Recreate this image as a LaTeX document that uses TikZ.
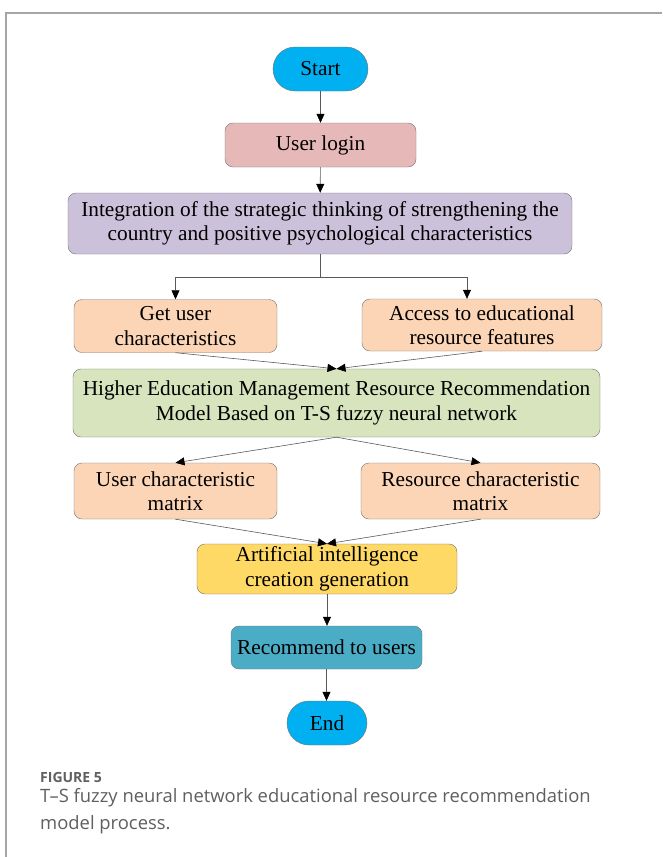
\documentclass[tikz,border=0pt]{standalone}
\usepackage{fontspec}
\setmainfont{Liberation Serif}
\newfontfamily\capfont{Open Sans}
\usetikzlibrary{arrows.meta,shapes.misc}
\definecolor{termblue}{HTML}{00B0F0}
\definecolor{loginpink}{HTML}{E6B9B8}
\definecolor{lilac}{HTML}{CCC1DA}
\definecolor{peach}{HTML}{FBD5B5}
\definecolor{sage}{HTML}{D7E4BD}
\definecolor{gold}{HTML}{FFD966}
\definecolor{tealbox}{HTML}{4BACC6}
\definecolor{capgray}{HTML}{5F5F5F}

\begin{document}
\begin{tikzpicture}[x=1pt,y=-1pt,
  box/.style={draw=black!55,rounded corners=8pt,inner sep=0pt,align=center,font=\fontsize{21.3}{24.5}\selectfont},
  term/.style={draw=black!55,rounded rectangle,fill=termblue,inner sep=0pt,minimum width=#1,minimum height=44pt,font=\fontsize{21.3}{24.5}\selectfont},
  link/.style={draw=black!65,line width=0.6pt},
  flow/.style={link,-{Triangle[length=9pt,width=8pt,color=black]}}]
\useasboundingbox (0,0) rectangle (662,857);
\draw[draw=black!35,line width=1.5pt] (662,13) -- (6,13) -- (6,857);
\node[term=95pt] (start) at (320.5,69) {Start};
\node[box,fill=loginpink,minimum width=191pt,minimum height=44pt] (login) at (320.5,145) {User login};
\node[box,fill=lilac,minimum width=504pt,minimum height=61pt] (integ) at (320,223.5) {Integration of the strategic thinking of strengthening the\\country and positive psychological characteristics};
\node[box,fill=peach,minimum width=203pt,minimum height=53pt] (getuser) at (175.5,326) {Get user\\characteristics};
\node[box,fill=peach,minimum width=240pt,minimum height=52pt] (getres) at (482,325) {Access to educational\\resource features};
\node[box,fill=sage,minimum width=527pt,minimum height=68pt] (model) at (336.5,403) {Higher Education Management Resource Recommendation\\Model Based on T-S fuzzy neural network};
\node[box,fill=peach,minimum width=203pt,minimum height=56pt] (usermat) at (175.5,491) {User characteristic\\matrix};
\node[box,fill=peach,minimum width=239pt,minimum height=56pt] (resmat) at (480.5,491) {Resource characteristic\\matrix};
\node[box,fill=gold,minimum width=260pt,minimum height=50pt] (aigen) at (327,569) {Artificial intelligence\\creation generation};
\node[box,fill=tealbox,minimum width=191pt,minimum height=43pt] (recom) at (326.5,647.5) {Recommend to users};
\node[term=80pt] (end) at (327,723) {End};
\coordinate (fork) at (320,277);
\draw[flow] (start) -- (login);
\draw[flow] (login) -- (integ);
\draw[link] (integ.south) -- (fork);
\draw[flow] (fork) -| (getuser.north);
\draw[flow] (fork) -| ([xshift=-15pt]getres.north);
\draw[flow] (getuser.south) -- (model.north);
\draw[flow] (getres.south) -- (model.north);
\draw[flow] (model.south) -- (usermat.north);
\draw[flow] (model.south) -- (resmat.north);
\draw[flow] (usermat.south) -- (aigen.north);
\draw[flow] (resmat.south) -- (aigen.north);
\draw[flow] (aigen.south) -- (aigen.south |- recom.north);
\draw[flow] (recom.south) -- (recom.south |- end.north);
\node[anchor=base west,inner sep=0pt,text=capgray,font=\capfont\bfseries\fontsize{14}{17}\selectfont] (figlabel) at (40,782) {FIGURE 5};
\node[anchor=base west,inner sep=0pt,text=capgray,font=\capfont\fontsize{18.4}{27}\selectfont] (capone) at (40,802) {T–S fuzzy neural network educational resource recommendation};
\node[anchor=base west,inner sep=0pt,text=capgray,font=\capfont\fontsize{18.4}{27}\selectfont] (captwo) at (40,829) {model process.};
\end{tikzpicture}
\end{document}
